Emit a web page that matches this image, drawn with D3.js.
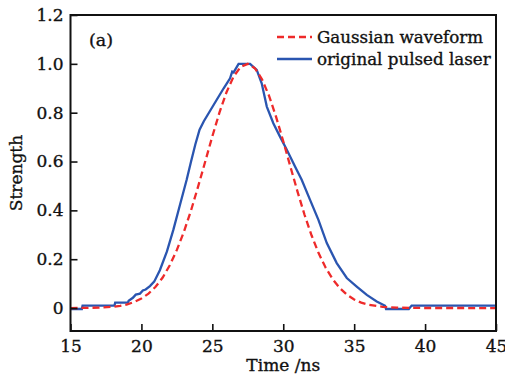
<!DOCTYPE html>
<html>
<head>
<meta charset="utf-8">
<script src="https://cdn.jsdelivr.net/npm/d3@7"></script>
<style>
  body { margin: 0; background: #fff; }
  svg { display: block; font-family: "DejaVu Serif", serif; }
  text { stroke: #111; stroke-width: 0.35px; }
</style>
</head>
<body>
<svg id="chart"></svg>
<script>
// données
const gaussTime = [15, 16, 17, 18, 18.5, 19, 19.5, 20, 20.5, 21, 21.5, 22, 22.5, 23, 23.5, 24, 24.5, 25, 25.5, 26, 26.5, 27, 27.5, 28, 28.5, 29, 29.5, 30, 30.5, 31, 31.5, 32, 32.5, 33, 33.5, 34, 34.5, 35, 35.5, 36, 37, 38, 40, 45];
const gaussValue = [0, 0.0005, 0.0017, 0.005, 0.009, 0.015, 0.025, 0.039, 0.059, 0.087, 0.125, 0.175, 0.238, 0.313, 0.4, 0.498, 0.6, 0.703, 0.8, 0.884, 0.948, 0.988, 1.0, 0.982, 0.937, 0.869, 0.782, 0.683, 0.58, 0.478, 0.382, 0.297, 0.224, 0.164, 0.117, 0.081, 0.054, 0.035, 0.022, 0.014, 0.005, 0.0015, 0.0002, 0];

const laserTime = [15, 15.8, 15.85, 18.1, 18.15, 19.05, 19.1, 19.4, 19.6, 19.9, 20.1, 20.3, 20.6, 20.9, 21.3, 21.8, 22.25, 22.72, 23.19, 23.5, 23.8, 24.1, 24.4, 25.3, 25.8, 26.25, 26.4, 26.5, 26.85, 27.66, 28.13, 28.48, 28.84, 29.3, 29.77, 30.25, 30.83, 31.3, 31.89, 32.48, 33.07, 33.77, 34.48, 35.18, 35.89, 36.59, 37.18, 37.25, 38.85, 39.05, 45];
const laserValue = [-0.004, -0.004, 0.01, 0.01, 0.022, 0.022, 0.03, 0.042, 0.055, 0.059, 0.072, 0.076, 0.09, 0.108, 0.155, 0.232, 0.32, 0.423, 0.525, 0.6, 0.67, 0.73, 0.765, 0.852, 0.9, 0.941, 0.968, 0.965, 1.0, 1.0, 0.975, 0.92, 0.825, 0.757, 0.702, 0.648, 0.58, 0.525, 0.443, 0.361, 0.266, 0.184, 0.123, 0.088, 0.054, 0.027, 0.009, -0.004, -0.004, 0.01, 0.01];

const xTicks = [15, 20, 25, 30, 35, 40, 45];
const yTicks = [0, 0.2, 0.4, 0.6, 0.8, 1.0, 1.2];
const yTickLabels = ["0", "0.2", "0.4", "0.6", "0.8", "1.0", "1.2"];
const seriesNames = ["Gaussian waveform", "original pulsed laser"];

const width = 505;
const height = 375;
const margin = {top: 15, right: 9, bottom: 44, left: 70.5};

const svg = d3.select("#chart")
  .attr("width", width)
  .attr("height", height);

const x = d3.scaleLinear()
  .domain([15, 45])
  .range([margin.left, width - margin.right]);

const y = d3.scaleLinear()
  .domain([-0.094, 1.2])
  .range([height - margin.bottom, margin.top]);

const gauss = gaussTime.map((t, i) => ({t, v: gaussValue[i]}));
const laser = laserTime.map((t, i) => ({t, v: laserValue[i]}));

const line = d3.line()
  .x(d => x(d.t))
  .y(d => y(d.v));

// courbes
svg.append("path")
  .datum(laser)
  .attr("fill", "none")
  .attr("stroke", "#2a55b0")
  .attr("stroke-width", 2.3)
  .attr("d", line);

svg.append("path")
  .datum(gauss)
  .attr("fill", "none")
  .attr("stroke", "#ee2a2a")
  .attr("stroke-width", 2.3)
  .attr("stroke-dasharray", "7,4")
  .attr("d", line);

// axe x (ticks vers l'intérieur)
svg.append("g")
  .attr("transform", `translate(0,${height - margin.bottom})`)
  .call(d3.axisBottom(x).tickValues(xTicks).tickSizeInner(-7).tickSizeOuter(0).tickPadding(9))
  .call(g => g.select(".domain").remove())
  .call(g => g.selectAll("line").attr("stroke", "#111").attr("stroke-width", 1.6))
  .call(g => g.selectAll("text").attr("font-size", 17).attr("font-family", "DejaVu Serif").attr("fill", "#111"));

// axe y
svg.append("g")
  .attr("transform", `translate(${margin.left},0)`)
  .call(d3.axisLeft(y).tickValues(yTicks).tickFormat((d, i) => yTickLabels[i]).tickSizeInner(-7).tickSizeOuter(0).tickPadding(7))
  .call(g => g.select(".domain").remove())
  .call(g => g.selectAll("line").attr("stroke", "#111").attr("stroke-width", 1.6))
  .call(g => g.selectAll("text").attr("font-size", 17).attr("font-family", "DejaVu Serif").attr("fill", "#111"));

// cadre
svg.append("rect")
  .attr("x", margin.left)
  .attr("y", margin.top)
  .attr("width", width - margin.left - margin.right)
  .attr("height", height - margin.top - margin.bottom)
  .attr("fill", "none")
  .attr("stroke", "#111")
  .attr("stroke-width", 2);

// titres des axes
svg.append("text")
  .attr("x", (margin.left + width - margin.right) / 2)
  .attr("y", 371)
  .attr("text-anchor", "middle")
  .attr("font-size", 17)
  .attr("fill", "#111")
  .text("Time /ns");

svg.append("text")
  .attr("transform", `translate(22,${(margin.top + height - margin.bottom) / 2}) rotate(-90)`)
  .attr("text-anchor", "middle")
  .attr("font-size", 17)
  .attr("fill", "#111")
  .text("Strength");

svg.append("text")
  .attr("x", 89)
  .attr("y", 46)
  .attr("font-size", 17.5)
  .attr("fill", "#111")
  .text("(a)");

// légende
const legend = svg.append("g")
  .selectAll("g")
  .data(seriesNames)
  .join("g")
    .attr("transform", (d, i) => `translate(277,${37 + i * 22})`);

legend.append("line")
  .attr("x1", 0)
  .attr("x2", 35)
  .attr("stroke", (d, i) => i === 0 ? "#ee2a2a" : "#2a55b0")
  .attr("stroke-width", 2.3)
  .attr("stroke-dasharray", (d, i) => i === 0 ? "7,4" : null);

legend.append("text")
  .attr("x", 40)
  .attr("dy", "0.35em")
  .attr("font-size", 16.7)
  .attr("fill", "#111")
  .text(d => d);
</script>
</body>
</html>
